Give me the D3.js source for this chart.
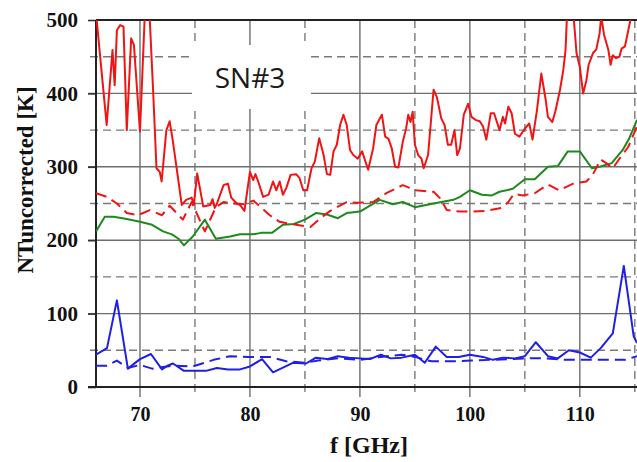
<!DOCTYPE html>
<html><head><meta charset="utf-8">
<script src="https://cdn.jsdelivr.net/npm/d3@7"></script>
<style>body{margin:0;background:#fff}svg{display:block}</style>
</head><body>
<script>
// ---- data ----
const redSolidF = [66,66.97,67.5,67.7,67.9,68.2,68.5,68.8,69.2,69.45,70.0,70.5,70.8,71.2,71.5,71.8,71.97,72.4,72.7,73.0,73.8,74.2,74.7,74.9,75.2,75.75,76.4,76.6,76.8,77.0,77.6,78.0,78.3,78.8,79.1,79.5,80.0,80.3,80.5,80.75,81.2,81.7,82.1,82.4,82.7,83.0,83.3,83.7,84.2,84.5,84.85,85.2,85.6,85.9,86.3,86.7,87.0,87.3,87.6,87.9,88.2,88.5,88.8,89.1,89.4,89.8,90.2,90.75,91.2,91.5,91.75,92.0,92.3,92.6,92.9,93.2,93.5,93.9,94.2,94.4,94.6,94.8,95.0,95.3,95.6,95.8,96.2,96.7,97.0,97.4,97.7,98.0,98.3,98.6,98.85,99.1,99.45,99.85,100.15,100.5,100.9,101.2,101.5,101.9,102.2,102.7,103.0,103.2,103.5,103.8,104.1,104.5,105.0,105.4,105.7,106.1,106.5,106.9,107.1,107.5,107.8,108.2,108.5,108.7,108.9,109.3,109.7,110.0,110.3,110.6,110.8,111.2,111.5,111.8,111.95,112.2,112.6,112.8,113.0,113.3,113.6,113.8,114.1,114.3,114.6,115.0];
const redSolidT = [510,357,459,411,486,493,491,350,475,466,348,530,530,402,298,293,280,350,362,334,248,255,258,248,291,246,248,256,244,250,275,277,258,250,248,240,293,282,290,280,259,262,280,268,280,262,271,289,290,285,268,268,298,307,339,316,290,289,321,330,357,371,357,323,316,311,321,296,325,357,364,371,341,338,325,300,299,334,352,371,361,375,330,316,311,298,316,405,395,366,357,330,330,350,316,325,371,386,368,364,362,355,337,373,373,350,368,359,382,373,345,341,352,359,337,377,427,391,368,361,377,405,432,459,530,530,455,436,400,418,439,455,460,482,505,480,459,439,452,448,450,461,464,478,500,540];

const redDashF = [66,67,67.9,68.8,69.8,70.9,72,72.7,73.9,74.7,75.9,76.9,77.6,78.5,79.5,80.3,81,81.8,82.7,84.2,85.5,86.4,87.3,88.8,89.7,91.2,92.4,93.9,95.1,96.7,97.3,97.9,99.1,100.3,101.5,102.9,103.5,104,104.8,105.9,107.1,108.1,109.4,110.6,111.2,111.9,112.4,113,113.6,114.4,115.2];
const redDashT = [264,259,250,237,234,241,234,247,228,252,212,245,252,250,249,254,245,234,225,221,218,230,240,252,251,252,264,275,268,266,257,241,239,239,240,244,252,263,261,264,276,268,277,280,290,310,305,298,311,327,355];

const greenF = [66,66.8,67.6,68.8,70,71.1,72.1,72.9,73.5,74.0,74.8,75.9,76.9,78.2,79.1,80.3,81,82,83,84,85,86,87,88,88.8,90,91.8,93,93.9,95,96.7,98.5,99.1,100,101.1,102,102.7,103.9,105,105.9,107.1,108,108.9,110,111.1,111.8,112.9,113.9,114.5,115.2];
const greenT = [212,232,232,229,225,221,212,208,202,193,205,228,202,205,208,208,210,210,221,222,228,237,235,230,237,239,255,249,252,245,250,255,259,268,262,261,266,270,283,283,300,301,321,321,298,300,305,323,339,364];

const blueSolidF = [66,67,67.9,68.9,70,71,72,72.5,73,74,75,76,77,78,79.1,80,81.1,82.1,83.9,85.1,86,87,88,89,90,90.9,91.9,92.8,93.8,95,95.9,96.9,97.9,99,100,101.2,102.1,103,104.1,105,106,107.1,108,109,110,111,111.9,113,114,114.9,115.2];
const blueSolidT = [44,53,118,25,38,45,24,29,32,22,22,22,26,24,24,28,38,20,33,32,40,38,42,40,39,38,44,39,40,44,33,55,41,41,44,41,37,40,39,42,61,42,39,50,47,40,53,73,165,69,60];

const blueDashF = [66,67,67.9,68.9,70,71.1,73,74.8,76.7,78.2,79.8,81.8,83.3,85,86.2,88,90,91.9,93.8,95,96.5,98.3,100.1,101.9,103.8,105,106.8,108.6,110.5,112.2,114.1,115.2];
const blueDashT = [29,29,36,26,30,25,29,28,37,42,41,41,35,33,36,39,37,41,44,41,35,35,36,37,38,39,39,37,37,37,37,42];

const xTicks = [70,80,90,100,110];
const xMinor = [75,85,95,105,115];
const yTicks = [0,100,200,300,400,500];
const yMinor = [50,150,250,350,450];
const xTitle = "f [GHz]";
const yTitle = "NTuncorrected [K]";
const panelLabel = "SN#3";

// ---- layout ----
const W = 637, H = 462;
const L = 96, R = 637, T = 20, B = 387;
const svg = d3.select("body").append("svg").attr("width", W).attr("height", H);

const x = d3.scaleLinear().domain([66, 115.2]).range([L, R]);
const y = d3.scaleLinear().domain([0, 500]).range([B, T]);

const serif = "'Liberation Serif','Times New Roman',serif";

// grid
const g = svg.append("g");
g.selectAll(".vs").data(xTicks).join("line")
  .attr("x1", d => x(d)).attr("x2", d => x(d)).attr("y1", T).attr("y2", B + 10)
  .attr("stroke", "#6e6e6e").attr("stroke-width", 1.4);
g.selectAll(".vd").data(xMinor).join("line")
  .attr("x1", d => x(d)).attr("x2", d => x(d)).attr("y1", T).attr("y2", B + 10)
  .attr("stroke", "#7a7a7a").attr("stroke-width", 1.4).attr("stroke-dasharray", "8,5");
g.selectAll(".hs").data(yTicks.filter(d => d > 0 && d < 500)).join("line")
  .attr("x1", L - 8).attr("x2", R).attr("y1", d => y(d)).attr("y2", d => y(d))
  .attr("stroke", "#6e6e6e").attr("stroke-width", 1.4);
g.selectAll(".hd").data(yMinor).join("line")
  .attr("x1", L - 6).attr("x2", R).attr("y1", d => y(d)).attr("y2", d => y(d))
  .attr("stroke", "#7a7a7a").attr("stroke-width", 1.4).attr("stroke-dasharray", "8,5");

// label box
svg.append("rect").attr("x", 192).attr("y", 45).attr("width", 119).attr("height", 64).attr("fill", "#fff");
svg.append("text").attr("x", 250).attr("y", 88).attr("text-anchor", "middle")
  .attr("font-family", "'Open Sans','Noto Sans',sans-serif").attr("font-size", 28).attr("fill", "#1a1a1a")
  .text(panelLabel);

// axes
const ax = svg.append("g").attr("transform", `translate(0,${B})`)
  .call(d3.axisBottom(x).tickValues(xTicks).tickSize(0).tickPadding(20).tickFormat(d3.format("d")));
ax.select(".domain").remove();
ax.selectAll("text").attr("font-family", serif).attr("font-weight", "bold").attr("font-size", 20).attr("fill", "#111");

const ay = svg.append("g").attr("transform", `translate(${L},0)`)
  .call(d3.axisLeft(y).tickValues(yTicks).tickSize(8).tickPadding(10).tickFormat(d3.format("d")));
ay.select(".domain").remove();
ay.selectAll("line").attr("stroke", "#333").attr("stroke-width", 1.6);
ay.selectAll("text").attr("font-family", serif).attr("font-weight", "bold").attr("font-size", 21).attr("fill", "#111");

// frame
svg.append("line").attr("x1", L).attr("x2", R).attr("y1", T).attr("y2", T).attr("stroke", "#222").attr("stroke-width", 2);
svg.append("line").attr("x1", L).attr("x2", L).attr("y1", T).attr("y2", B).attr("stroke", "#222").attr("stroke-width", 2);
svg.append("line").attr("x1", L - 8).attr("x2", R).attr("y1", B).attr("y2", B).attr("stroke", "#222").attr("stroke-width", 2);

// titles
svg.append("text").attr("x", 369).attr("y", 453).attr("text-anchor", "middle")
  .attr("font-family", serif).attr("font-weight", "bold").attr("font-size", 24).attr("fill", "#111").text(xTitle);
svg.append("text").attr("transform", "translate(33,180) rotate(-90)").attr("text-anchor", "middle")
  .attr("font-family", serif).attr("font-weight", "bold").attr("font-size", 23).attr("fill", "#111").text(yTitle);

// data
svg.append("clipPath").attr("id", "clip").append("rect").attr("x", L).attr("y", T).attr("width", R - L).attr("height", B - T);
const plot = svg.append("g").attr("clip-path", "url(#clip)");
const line = d3.line().x(d => x(d[0])).y(d => y(d[1]));
const series = [
  {f: greenF, t: greenT, c: "#1e8a1e", dash: null},
  {f: redDashF, t: redDashT, c: "#f01414", dash: "11,6"},
  {f: redSolidF, t: redSolidT, c: "#f01414", dash: null},
  {f: blueDashF, t: blueDashT, c: "#1f1fe6", dash: "11,6"},
  {f: blueSolidF, t: blueSolidT, c: "#1f1fe6", dash: null}
];
series.forEach(s => {
  plot.append("path").datum(s.f.map((f, i) => [f, s.t[i]]))
    .attr("d", line).attr("fill", "none").attr("stroke", s.c).attr("stroke-width", 2)
    .attr("stroke-linejoin", "round")
    .attr("stroke-dasharray", s.dash);
});
</script>
</body></html>
